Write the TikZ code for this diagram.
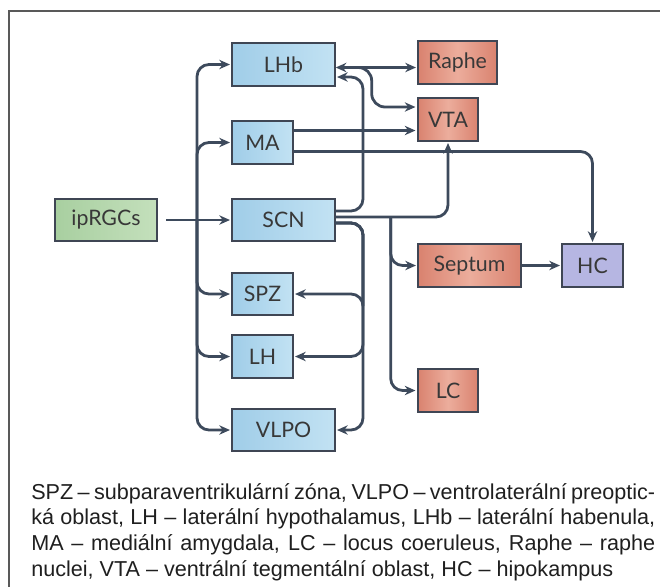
\documentclass[tikz,border=0pt]{standalone}
\usepackage{fontspec}
\setmainfont{Liberation Sans}
\newfontfamily\boxfont{Lato}
\usepackage{tikz}
\usetikzlibrary{arrows.meta, calc}
\definecolor{linec}{HTML}{3D4A5C}
\definecolor{edgec}{HTML}{3F4654}
\definecolor{bluel}{HTML}{A0CDE8}
\definecolor{blueh}{HTML}{C2E2F3}
\definecolor{redl}{HTML}{D9826F}
\definecolor{redh}{HTML}{ECAD9C}
\definecolor{greenl}{HTML}{A8CFA0}
\definecolor{greenh}{HTML}{C4E0BC}
\definecolor{lilac}{HTML}{B6B6E2}
\definecolor{txtc}{HTML}{383838}

\tikzset{
  nbox/.style={draw=edgec, line width=1.3pt, minimum height=32pt, inner sep=0pt,
    font=\boxfont\fontsize{16}{16}\selectfont, text=txtc},
  wide/.style={minimum width=77pt},
  narrow/.style={minimum width=45.5pt},
  blu/.style={nbox, left color=bluel, right color=blueh},
  red/.style={nbox, left color=redl, right color=redl, middle color=redh},
  grn/.style={nbox, left color=greenl, right color=greenh},
  lil/.style={nbox, fill=lilac},
  conn/.style={draw=linec, line width=2.1pt, rounded corners=9pt,
    -{Stealth[length=8pt, width=7pt]}, shorten >=1pt},
}

\begin{document}
\begin{tikzpicture}[x=0.75pt, y=-0.75pt]
\useasboundingbox (0,0) rectangle (660,586);
% frame
\draw[line width=1.1pt, draw=black!65] (9,11) rectangle (680,600);

% nodes
\node[grn, wide] (iprgc) at (106,220) {ipRGCs};
\node[blu, wide] (lhb) at (283.5,64.5) {LHb};
\node[blu, narrow] (ma) at (262.5,142.5) {MA};
\node[blu, wide] (scn) at (283.5,220) {SCN};
\node[blu, narrow] (spz) at (262.5,294) {SPZ};
\node[blu, narrow] (lh) at (262.5,356.5) {LH};
\node[blu, wide] (vlpo) at (283.5,430) {VLPO};
\node[red, minimum width=59pt] (raphe) at (457.5,62.5) {Raphe};
\node[red, narrow] (vta) at (448,119.5) {VTA};
\node[red, wide] (septum) at (469.5,265.5) {Septum};
\node[lil, narrow] (hc) at (592.5,265.5) {HC};
\node[red, narrow] (lc) at (448,390.5) {LC};

% bus points
\coordinate (split) at (197,220);
\coordinate (busu) at (363,150);
\coordinate (busd) at (363,300);
\coordinate (sbr) at ($(scn.east)+(55,-3)$);

% ipRGCs input and left trunk
\draw[conn] ($(iprgc.east)+(8,0)$) -- (scn);
\foreach \t in {lhb,ma,spz,lh,vlpo}
  \draw[conn] (split) |- (\t.west);

% SCN outputs
\draw[conn] ($(scn.east)+(0,-9)$) -| (busu) |- ($(lhb.east)+(0,12.5)$);
\draw[conn] ($(scn.east)+(0,-3)$) -| (vta.south);
\foreach \t in {spz,lh,vlpo}
  \draw[conn] ($(scn.east)+(0,3)$) -| (busd) |- (\t.east);
\draw[conn] (sbr) |- (septum.west);
\draw[conn] (sbr) |- (lc.west);

% LHb and MA outputs
\draw[conn, {Stealth[length=8pt, width=7pt]}-{Stealth[length=8pt, width=7pt]}]
  ($(lhb.east)+(0,3)$) -- ($(raphe.west)+(0,5)$);
\draw[conn, rounded corners=10pt] ($(lhb.east)+(22,3)$) -- ($(lhb.east)+(36,3)$)
  |- ($(vta.west)+(0,-12.5)$);
\draw[conn] ($(ma.east)+(0,-12)$) -- ($(vta.west)+(0,11)$);
\draw[conn] ($(ma.east)+(0,9)$) -| (hc.north);
\draw[conn] (septum) -- (hc);

% legend
\node[anchor=north west, inner sep=0pt, align=left, text=black!88,
  font=\fontsize{16.2}{19.3}\selectfont] (legend) at (31,483)
  {\makebox[468pt][s]{SPZ – subparaventrikulární zóna, VLPO – ventrolaterální preoptic-}\\
   \makebox[468pt][s]{ká oblast, LH – laterální hypothalamus, LHb – laterální habenula,}\\
   \makebox[468pt][s]{MA – mediální amygdala, LC – locus coeruleus, Raphe – raphe}\\
   nuclei, VTA – ventrální tegmentální oblast, HC – hipokampus};
\end{tikzpicture}
\end{document}
